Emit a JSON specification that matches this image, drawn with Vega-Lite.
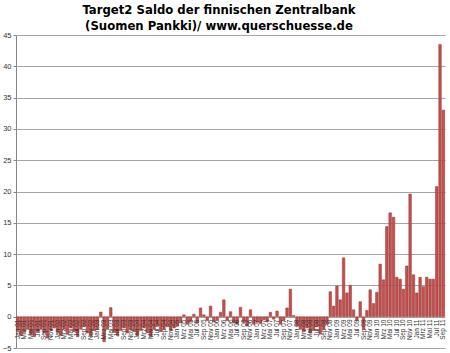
{
  "$schema": "https://vega.github.io/schema/vega-lite/v6.json",
  "width": 429,
  "height": 313,
  "autosize": "none",
  "padding": {"left": 16, "top": 35, "right": 5, "bottom": 5},
  "background": "white",
  "title": {
    "text": ["Target2 Saldo der finnischen Zentralbank", "(Suomen Pankki)/ www.querschuesse.de"],
    "font": "DejaVu Sans",
    "fontWeight": "bold",
    "fontSize": 11.7,
    "lineHeight": 16.5,
    "color": "#000000",
    "anchor": "middle",
    "dx": -11.5,
    "offset": -2
  },
  "data": {
    "values": [
      {"m": "Jan 01", "v": -2.2}, {"m": "Feb 01", "v": -3.0}, {"m": "Mrz 01", "v": -2.5}, {"m": "Apr 01", "v": -2.0}, {"m": "Mai 01", "v": -2.8}, {"m": "Jun 01", "v": -3.2}, {"m": "Jul 01", "v": -2.4}, {"m": "Aug 01", "v": -2.0}, {"m": "Sep 01", "v": -2.6}, {"m": "Okt 01", "v": -3.4}, {"m": "Nov 01", "v": -2.2}, {"m": "Dez 01", "v": -1.8},
      {"m": "Jan 02", "v": -2.5}, {"m": "Feb 02", "v": -3.0}, {"m": "Mrz 02", "v": -2.0}, {"m": "Apr 02", "v": -2.8}, {"m": "Mai 02", "v": -1.8}, {"m": "Jun 02", "v": -2.4}, {"m": "Jul 02", "v": -3.2}, {"m": "Aug 02", "v": -2.0}, {"m": "Sep 02", "v": -1.6}, {"m": "Okt 02", "v": -2.6}, {"m": "Nov 02", "v": -3.0}, {"m": "Dez 02", "v": -2.2},
      {"m": "Jan 03", "v": -2.0}, {"m": "Feb 03", "v": 0.75}, {"m": "Mrz 03", "v": -4.0}, {"m": "Apr 03", "v": -2.0}, {"m": "Mai 03", "v": 1.45}, {"m": "Jun 03", "v": -2.5}, {"m": "Jul 03", "v": -3.0}, {"m": "Aug 03", "v": -2.2}, {"m": "Sep 03", "v": -1.8}, {"m": "Okt 03", "v": -2.6}, {"m": "Nov 03", "v": -2.0}, {"m": "Dez 03", "v": -2.4},
      {"m": "Jan 04", "v": -3.0}, {"m": "Feb 04", "v": -2.2}, {"m": "Mrz 04", "v": -1.8}, {"m": "Apr 04", "v": -2.6}, {"m": "Mai 04", "v": -3.2}, {"m": "Jun 04", "v": -2.0}, {"m": "Jul 04", "v": -1.5}, {"m": "Aug 04", "v": -2.4}, {"m": "Sep 04", "v": -2.0}, {"m": "Okt 04", "v": -1.6}, {"m": "Nov 04", "v": -2.2}, {"m": "Dez 04", "v": -1.8},
      {"m": "Jan 05", "v": -1.5}, {"m": "Feb 05", "v": -1.0}, {"m": "Mrz 05", "v": 0.3}, {"m": "Apr 05", "v": -1.2}, {"m": "Mai 05", "v": -0.8}, {"m": "Jun 05", "v": 0.4}, {"m": "Jul 05", "v": -1.0}, {"m": "Aug 05", "v": 1.4}, {"m": "Sep 05", "v": 0.3}, {"m": "Okt 05", "v": -0.6}, {"m": "Nov 05", "v": 1.7}, {"m": "Dez 05", "v": -0.8},
      {"m": "Jan 06", "v": -0.5}, {"m": "Feb 06", "v": 0.7}, {"m": "Mrz 06", "v": 2.7}, {"m": "Apr 06", "v": -0.6}, {"m": "Mai 06", "v": 0.8}, {"m": "Jun 06", "v": -1.0}, {"m": "Jul 06", "v": -1.2}, {"m": "Aug 06", "v": 1.5}, {"m": "Sep 06", "v": -0.8}, {"m": "Okt 06", "v": -1.5}, {"m": "Nov 06", "v": 1.1}, {"m": "Dez 06", "v": -1.2},
      {"m": "Jan 07", "v": -0.9}, {"m": "Feb 07", "v": -1.1}, {"m": "Mrz 07", "v": -0.5}, {"m": "Apr 07", "v": -0.8}, {"m": "Mai 07", "v": 0.7}, {"m": "Jun 07", "v": -0.4}, {"m": "Jul 07", "v": 0.9}, {"m": "Aug 07", "v": -1.2}, {"m": "Sep 07", "v": -0.6}, {"m": "Okt 07", "v": 1.4}, {"m": "Nov 07", "v": 4.4}, {"m": "Dez 07", "v": 0.2},
      {"m": "Jan 08", "v": -1.5}, {"m": "Feb 08", "v": -2.0}, {"m": "Mrz 08", "v": -2.4}, {"m": "Apr 08", "v": -1.8}, {"m": "Mai 08", "v": -2.6}, {"m": "Jun 08", "v": -2.2}, {"m": "Jul 08", "v": -1.6}, {"m": "Aug 08", "v": -2.8}, {"m": "Sep 08", "v": -2.0}, {"m": "Okt 08", "v": -1.2}, {"m": "Nov 08", "v": 4.0}, {"m": "Dez 08", "v": 1.7},
      {"m": "Jan 09", "v": 4.9}, {"m": "Feb 09", "v": 2.7}, {"m": "Mrz 09", "v": 9.4}, {"m": "Apr 09", "v": 3.8}, {"m": "Mai 09", "v": 5.0}, {"m": "Jun 09", "v": 1.1}, {"m": "Jul 09", "v": -0.6}, {"m": "Aug 09", "v": 2.4}, {"m": "Sep 09", "v": -2.0}, {"m": "Okt 09", "v": 1.0}, {"m": "Nov 09", "v": 4.3}, {"m": "Dez 09", "v": 2.1},
      {"m": "Jan 10", "v": 3.9}, {"m": "Feb 10", "v": 8.4}, {"m": "Mrz 10", "v": 5.9}, {"m": "Apr 10", "v": 14.4}, {"m": "Mai 10", "v": 16.6}, {"m": "Jun 10", "v": 15.9}, {"m": "Jul 10", "v": 6.3}, {"m": "Aug 10", "v": 6.0}, {"m": "Sep 10", "v": 4.4}, {"m": "Okt 10", "v": 8.1}, {"m": "Nov 10", "v": 19.6}, {"m": "Dez 10", "v": 6.7},
      {"m": "Jan 11", "v": 3.8}, {"m": "Feb 11", "v": 6.3}, {"m": "Mrz 11", "v": 4.8}, {"m": "Apr 11", "v": 6.3}, {"m": "Mai 11", "v": 6.0}, {"m": "Jun 11", "v": 6.0}, {"m": "Jul 11", "v": 20.8}, {"m": "Aug 11", "v": 43.5}, {"m": "Sep 11", "v": 33.0}
    ]
  },
  "mark": {"type": "bar", "color": "#C0504D", "stroke": "#9A3A37", "strokeWidth": 0.5},
  "encoding": {
    "x": {
      "field": "m",
      "type": "ordinal",
      "sort": null,
      "scale": {"paddingInner": 0.22, "paddingOuter": 0.1},
      "axis": {
        "title": null,
        "values": ["Jan 01","Mrz 01","Mai 01","Jul 01","Sep 01","Nov 01","Jan 02","Mrz 02","Mai 02","Jul 02","Sep 02","Nov 02","Jan 03","Mrz 03","Mai 03","Jul 03","Sep 03","Nov 03","Jan 04","Mrz 04","Mai 04","Jul 04","Sep 04","Nov 04","Jan 05","Mrz 05","Mai 05","Jul 05","Sep 05","Nov 05","Jan 06","Mrz 06","Mai 06","Jul 06","Sep 06","Nov 06","Jan 07","Mrz 07","Mai 07","Jul 07","Sep 07","Nov 07","Jan 08","Mrz 08","Mai 08","Jul 08","Sep 08","Nov 08","Jan 09","Mrz 09","Mai 09","Jul 09","Sep 09","Nov 09","Jan 10","Mrz 10","Mai 10","Jul 10","Sep 10","Nov 10","Jan 11","Mrz 11","Mai 11","Jul 11","Sep 11"],
        "labelAngle": -90,
        "labelFont": "Liberation Sans",
        "labelFontSize": 6.5,
        "labelColor": "#333333",
        "labelOverlap": false,
        "labelPadding": 2,
        "domain": false,
        "ticks": false,
        "grid": false,
        "offset": -31,
        "zindex": 1
      }
    },
    "y": {
      "field": "v",
      "type": "quantitative",
      "scale": {"domain": [-5, 45], "nice": false, "zero": false},
      "axis": {
        "title": null,
        "values": [-5, 0, 5, 10, 15, 20, 25, 30, 35, 40, 45],
        "labelFont": "Liberation Sans",
        "labelFontSize": 7.5,
        "labelColor": "#333333",
        "labelPadding": 2,
        "tickSize": 3,
        "tickColor": "#888888",
        "domainColor": "#888888",
        "gridColor": "#A6A6A6",
        "gridWidth": 1
      }
    }
  },
  "config": {"view": {"stroke": null}}
}
